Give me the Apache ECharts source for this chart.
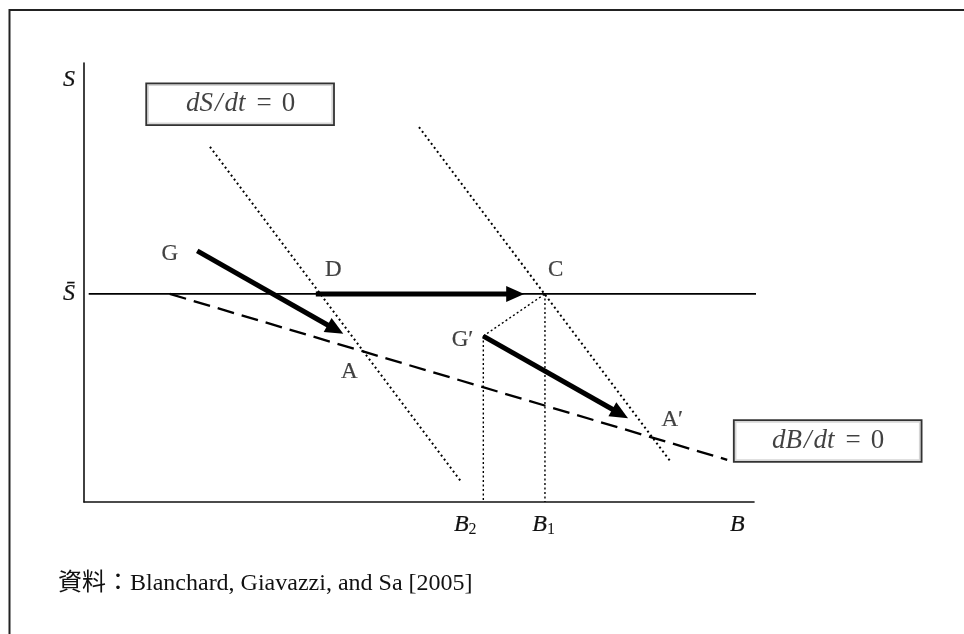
<!DOCTYPE html>
<html><head><meta charset="utf-8">
<script src="https://cdn.jsdelivr.net/npm/echarts@6/dist/echarts.min.js"></script>
<style>html,body{margin:0;padding:0;background:#fff}#c{width:964px;height:634px}</style>
</head><body><div id="c"></div>
<script>
// ---- data (schematic units: x 0..100, y 0..100) ----
const sBarLine   = [[0.7, 47.4], [100.9, 47.4]];
const dBdtLine   = [[12.8, 47.4], [96.0, 9.6]];
const dSdtLine1  = [[18.8, 80.9], [56.3, 4.6]];
const dSdtLine2  = [[50.0, 85.4], [87.6, 9.1]];
const b2Drop     = [[59.6, 37.8], [59.6, 0]];
const b1Drop     = [[68.8, 47.4], [68.8, 0]];
const gPrimeToC  = [[59.6, 37.8], [68.8, 47.4]];
const arrowGA    = [[16.9, 57.2], [38.7, 38.3]];
const arrowDC    = [[34.6, 47.4], [65.7, 47.4]];
const arrowGpAp  = [[59.6, 37.8], [81.2, 19.1]];
const pointNames = ['G', 'D', 'C', 'A', 'G\u2032', 'A\u2032'];
const pointX     = [12.8, 37.2, 70.4, 39.6, 56.5, 87.8];
const pointY     = [56.4, 52.8, 52.8, 29.6, 36.9, 18.6];
const boxVars    = ['dS', 'dB'];
const boxX       = [23.3, 111.0];
const boxY       = [90.6, 13.9];
const xTickValues = [56.9, 68.6, 97.5];
const xTickMain   = ['B', 'B', 'B'];
const xTickSub    = ['2', '1', ''];
const yTickValues = [96.2, 47.4];
const yTickLabels = ['S', 'S\u0304'];
const sourceText  = '資料：Blanchard, Giavazzi, and Sa [2005]';

const SERIF = "'Liberation Serif', 'Times New Roman', 'Noto Sans CJK JP', serif";
const INK = '#111';
const TB = { textBorderColor: '#111', textBorderWidth: 0.2 };

function seg(points, width, type) {
  return {
    type: 'line', data: points, showSymbol: false, symbol: 'none', clip: false, silent: true,
    lineStyle: { color: '#000', width: width, type: type }, z: 2
  };
}
function nearestIdx(arr, v) {
  let b = 0; for (let i = 1; i < arr.length; i++) if (Math.abs(arr[i] - v) < Math.abs(arr[b] - v)) b = i; return b;
}
function txt(extra) { return Object.assign({ fontFamily: SERIF, color: INK }, TB, extra); }

const chart = echarts.init(document.getElementById('c'), null, { renderer: 'canvas' });
chart.setOption({
  animation: false,
  backgroundColor: '#fff',
  title: {
    text: sourceText, left: 53, top: 567,
    textStyle: txt({ fontSize: 24, fontWeight: 'normal', textBorderWidth: 0 })
  },
  graphic: [{
    type: 'rect', shape: { x: 9.5, y: 10, width: 1000, height: 700 },
    style: { fill: 'none', stroke: '#222', lineWidth: 2 }, silent: true
  }],
  grid: { left: 84, right: 210, top: 63, bottom: 132, containLabel: false },
  xAxis: {
    type: 'value', min: 0, max: 100,
    splitLine: { show: false }, axisTick: { show: false },
    axisLine: { lineStyle: { color: '#111', width: 1.6 } },
    axisLabel: Object.assign({
      customValues: xTickValues, margin: 10,
      formatter: function (v) {
        const i = nearestIdx(xTickValues, v);
        return '{i|' + xTickMain[i] + '}' + (xTickSub[i] ? '{s|' + xTickSub[i] + '}' : '');
      },
      rich: {
        i: txt({ fontStyle: 'italic', fontSize: 24, lineHeight: 26 }),
        s: txt({ fontSize: 16, lineHeight: 14, verticalAlign: 'bottom', textBorderWidth: 0 })
      }
    }, txt({}))
  },
  yAxis: {
    type: 'value', min: 0, max: 100,
    splitLine: { show: false }, axisTick: { show: false },
    axisLine: { lineStyle: { color: '#111', width: 1.6 } },
    axisLabel: Object.assign({
      customValues: yTickValues, margin: 9,
      formatter: function (v) { return yTickLabels[nearestIdx(yTickValues, v)]; }
    }, txt({ fontStyle: 'italic', fontSize: 24 }))
  },
  series: [
    seg(sBarLine, 1.6, 'solid'),
    seg(dBdtLine, 2.3, [17, 8]),
    seg(dSdtLine1, 2, [2, 3]),
    seg(dSdtLine2, 2, [2, 3]),
    seg(b2Drop, 1.4, [2, 2.5]),
    seg(b1Drop, 1.4, [2, 2.5]),
    seg(gPrimeToC, 1.4, [2, 2.5]),
    {
      type: 'custom', coordinateSystem: 'cartesian2d', clip: false, silent: true, z: 3,
      data: [arrowGA, arrowDC, arrowGpAp].map(a => [a[0][0], a[0][1], a[1][0], a[1][1]]),
      encode: { x: [0, 2], y: [1, 3] },
      renderItem: function (params, api) {
        const p0 = api.coord([api.value(0), api.value(1)]);
        const p1 = api.coord([api.value(2), api.value(3)]);
        const dx = p1[0] - p0[0], dy = p1[1] - p0[1];
        const L = Math.hypot(dx, dy), ux = dx / L, uy = dy / L;
        const hl = 18, hw = 8;
        const bx = p1[0] - ux * hl, by = p1[1] - uy * hl;
        return {
          type: 'group', children: [
            { type: 'line', shape: { x1: p0[0], y1: p0[1], x2: bx + ux * 3, y2: by + uy * 3 },
              style: { stroke: '#000', lineWidth: 5 } },
            { type: 'polygon', shape: { points: [[p1[0], p1[1]], [bx - uy * hw, by + ux * hw], [bx + uy * hw, by - ux * hw]] },
              style: { fill: '#000' } }
          ]
        };
      }
    },
    {
      type: 'scatter', clip: false, silent: true, symbolSize: 1, z: 4,
      itemStyle: { color: 'rgba(0,0,0,0)' },
      data: pointNames.map((n, i) => ({ name: n, value: [pointX[i], pointY[i]] })),
      label: Object.assign({ show: true, position: 'inside', formatter: '{b}' }, txt({ fontSize: 23 }))
    },
    {
      type: 'scatter', clip: false, silent: true, symbolSize: 1, z: 5,
      itemStyle: { color: 'rgba(0,0,0,0)' },
      data: boxVars.map((n, i) => ({ name: n, value: [boxX[i], boxY[i]] })),
      label: {
        show: true, position: 'inside', fontFamily: SERIF, fontSize: 27, color: INK, textBorderWidth: 0,
        formatter: function (p) { return '{i|' + p.name + '}{i|/}{i|dt}{r|=}{z|0}'; },
        width: 186, height: 40, lineHeight: 40, align: 'center', verticalAlign: 'middle',
        backgroundColor: '#fff', borderColor: '#000', borderWidth: 1.8, padding: 0,
        rich: {
          i: { fontFamily: SERIF, color: INK, fontStyle: 'italic', fontSize: 27, padding: [0, 1], textBorderWidth: 0 },
          r: { fontFamily: SERIF, color: INK, fontSize: 27, padding: [0, 10], textBorderWidth: 0 },
          z: { fontFamily: SERIF, color: INK, fontSize: 27, textBorderWidth: 0 }
        }
      }
    }
  ]
});
</script>
</body></html>
